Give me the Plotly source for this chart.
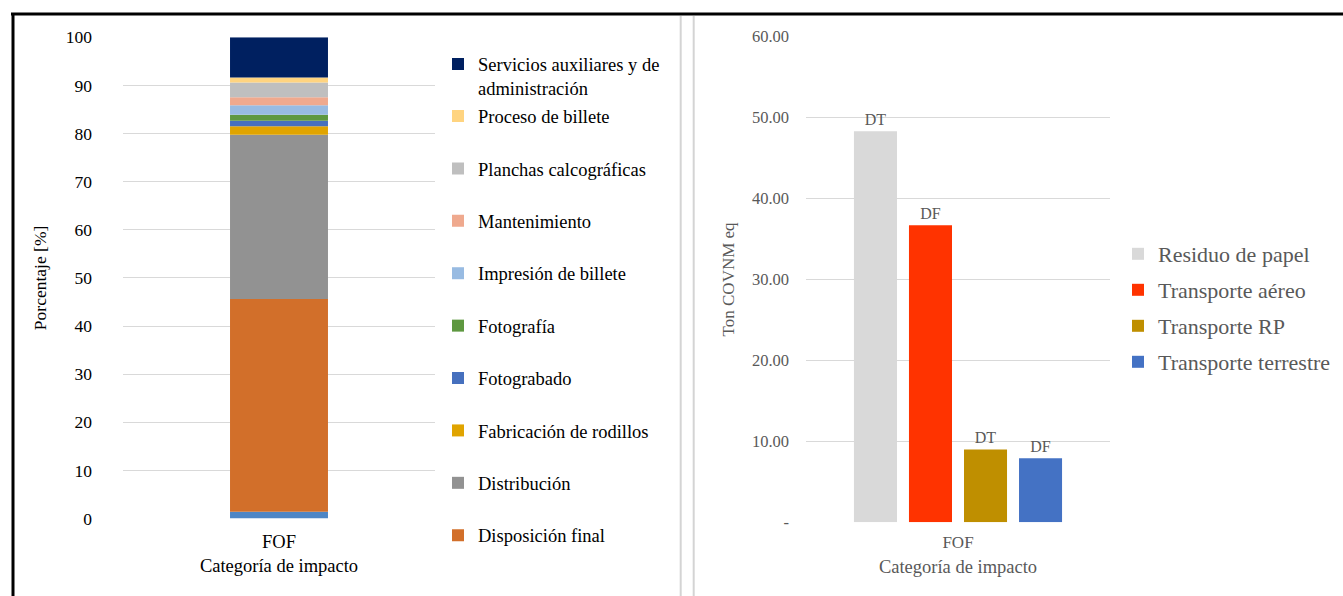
import numpy as np
import plotly.graph_objects as go

# ---------------- data ----------------
category = ["FOF"]

left_series = [
    "Otros",
    "Disposición final",
    "Distribución",
    "Fabricación de rodillos",
    "Fotograbado",
    "Fotografía",
    "Impresión de billete",
    "Mantenimiento",
    "Planchas calcográficas",
    "Proceso de billete",
    "Servicios auxiliares y de<br>administración",
]
left_values = [1.4, 44.2, 34.15, 1.75, 1.15, 1.25, 2.0, 1.65, 3.05, 1.05, 8.35]
left_in_legend = [False] + [True] * 10
left_colors = ["#4E86C5", "#D26F2A", "#929292", "#E0A400", "#4670BE", "#5E9840",
               "#98BBE2", "#EFA98E", "#BFBFBF", "#FFD480", "#002060"]
left_tickvals = list(range(0, 101, 10))
left_ticktext = [str(v) for v in left_tickvals]

right_series = ["Residuo de papel", "Transporte aéreo", "Transporte RP", "Transporte terrestre"]
right_values = [48.3, 36.7, 9.0, 7.9]
right_labels = ["DT", "DF", "DT", "DF"]
right_colors = ["#D9D9D9", "#FF3300", "#BF8F00", "#4472C4"]
right_tickvals = [0, 10, 20, 30, 40, 50, 60]
right_ticktext = ["-", "10.00", "20.00", "30.00", "40.00", "50.00", "60.00"]

FONT = "Liberation Serif"
GRAY = "#595959"
W, H = 1343, 596

def px(x):
    return x / W

def py(y):
    return 1 - y / H

fig = go.Figure()

bases = np.concatenate([[0.0], np.cumsum(left_values)[:-1]])
n_left = len(left_series)
for i, (name, val, base, col, show) in enumerate(
        zip(left_series, left_values, bases, left_colors, left_in_legend)):
    # the two-line top entry gets its own legend box so the even spacing is kept
    leg = "legend3" if i == n_left - 1 else "legend"
    fig.add_trace(go.Bar(
        x=category, y=[val], base=[base], name=name, marker_color=col,
        marker_line_width=0, width=0.314, offsetgroup="left",
        legend=leg, legendgroup=name, legendrank=100 + n_left - i, showlegend=show,
        xaxis="x", yaxis="y",
    ))

for i, (name, val, lbl, col) in enumerate(zip(right_series, right_values, right_labels, right_colors)):
    fig.add_trace(go.Bar(
        x=category, y=[val], name=name, marker_color=col, marker_line_width=0,
        text=[lbl], textposition="outside", cliponaxis=False,
        textfont=dict(family=FONT, size=16, color=GRAY),
        offsetgroup=name, legend="legend2", legendgroup=name, legendrank=100 + i,
        xaxis="x2", yaxis="y2",
    ))

grid = "#D9D9D9"
left_legend_font = dict(family=FONT, size=18.5, color="black")
fig.update_layout(
    width=W, height=H,
    margin=dict(l=0, r=0, t=0, b=0, autoexpand=False),
    paper_bgcolor="white", plot_bgcolor="white",
    barmode="group", bargap=0.276, bargroupgap=0.218,
    font=dict(family=FONT, color="black"),
    xaxis=dict(domain=[px(123), px(435)], anchor="y", showgrid=False, showline=False,
               zeroline=False, ticks="", tickfont=dict(size=18.5, color="black"),
               ticklabelstandoff=10, automargin=False,
               title=dict(text="Categoría de impacto", font=dict(size=18.5, color="black"), standoff=8)),
    yaxis=dict(domain=[py(518.5), py(37.3)], anchor="x", range=[0, 100],
               tickvals=left_tickvals, ticktext=left_ticktext, automargin=False,
               showgrid=True, gridcolor=grid, gridwidth=1, zeroline=False, showline=False,
               ticks="", tickfont=dict(size=17.5, color="black"), ticklabelstandoff=30,
               title=dict(text="Porcentaje [%]", font=dict(size=17.5, color="black"), standoff=14)),
    xaxis2=dict(domain=[px(806), px(1110)], anchor="y2", showgrid=False, showline=False,
                zeroline=False, ticks="", tickfont=dict(size=17, color=GRAY),
                ticklabelstandoff=8, automargin=False,
                title=dict(text="Categoría de impacto", font=dict(size=18.5, color=GRAY), standoff=8)),
    yaxis2=dict(domain=[py(522.3), py(36.5)], anchor="x2", range=[0, 60],
                tickvals=right_tickvals, ticktext=right_ticktext, automargin=False,
                showgrid=True, gridcolor=grid, gridwidth=1, zeroline=False, showline=False,
                ticks="", tickfont=dict(size=16.5, color=GRAY), ticklabelstandoff=16,
                title=dict(text="Ton COVNM eq", font=dict(size=17, color=GRAY), standoff=12)),
    legend3=dict(x=px(438), xanchor="left", y=py(45.5), yanchor="top",
                 traceorder="grouped", valign="top",
                 font=left_legend_font, bgcolor="rgba(0,0,0,0)"),
    legend=dict(x=px(438), xanchor="left", y=py(97.5), yanchor="top",
                traceorder="grouped", tracegroupgap=25.35, valign="top",
                font=left_legend_font, bgcolor="rgba(0,0,0,0)"),
    legend2=dict(x=px(1118), xanchor="left", y=py(233), yanchor="top",
                 traceorder="grouped", tracegroupgap=4.4,
                 font=dict(family=FONT, size=22, color=GRAY), bgcolor="rgba(0,0,0,0)"),
    shapes=[
        dict(type="line", xref="paper", yref="paper", x0=px(11), x1=1, y0=py(14), y1=py(14),
             line=dict(color="black", width=3)),
        dict(type="line", xref="paper", yref="paper", x0=px(13), x1=px(13), y0=py(13), y1=0,
             line=dict(color="black", width=3)),
        dict(type="line", xref="paper", yref="paper", x0=px(680.7), x1=px(680.7), y0=py(16), y1=0,
             line=dict(color="#D4D4D4", width=2)),
        dict(type="line", xref="paper", yref="paper", x0=px(693.7), x1=px(693.7), y0=py(16), y1=0,
             line=dict(color="#D4D4D4", width=2)),
    ],
)

fig.write_html("out.html", config={"displayModeBar": False},
               post_script="document.body.style.margin='0px';")
